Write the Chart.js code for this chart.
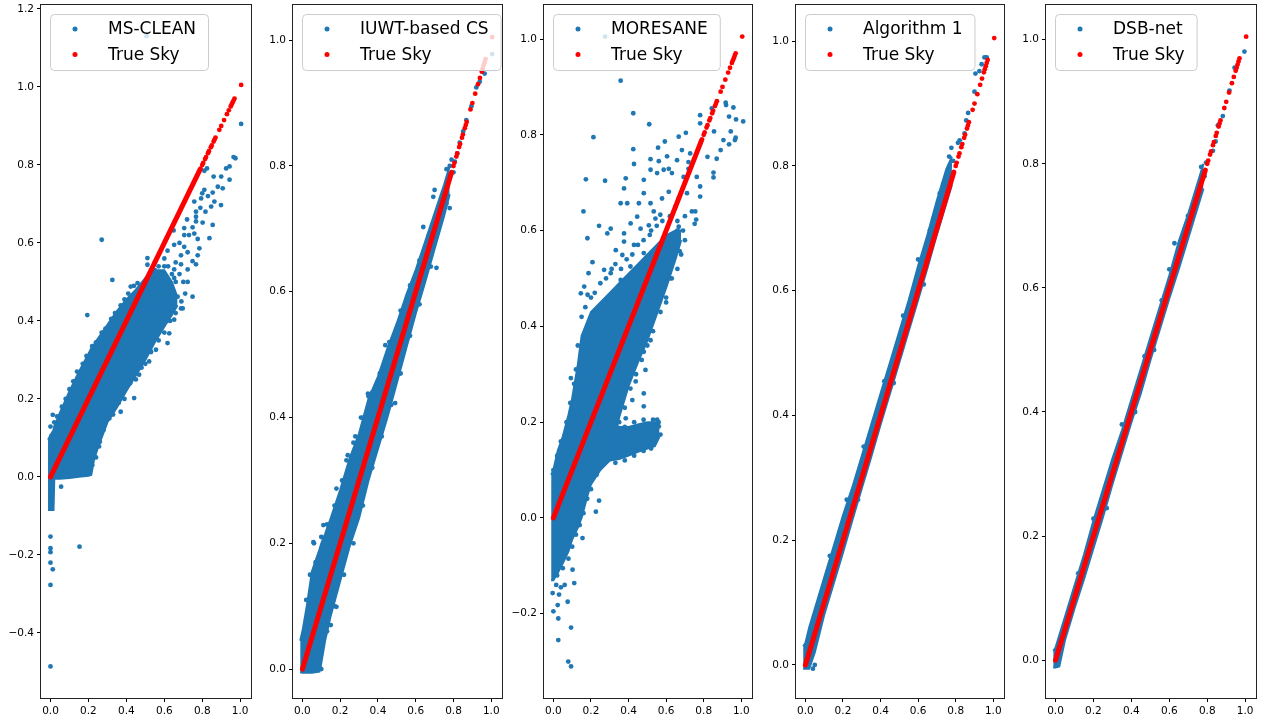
<!DOCTYPE html>
<html>
<head>
<meta charset="utf-8">
<script src="https://cdn.jsdelivr.net/npm/chart.js@4.4.1/dist/chart.umd.min.js"></script>
<style>
  html, body { margin: 0; padding: 0; background: #fff; }
  #wrap { position: relative; width: 1265px; height: 724px; overflow: hidden; }
  #wrap canvas { position: absolute; top: 0; }
</style>
</head>
<body>
<div id="wrap"></div>
<script>
// ---- values ----
const xTicks = [0, 0.2, 0.4, 0.6, 0.8, 1.0];
const yTicksClean = [-0.4, -0.2, 0, 0.2, 0.4, 0.6, 0.8, 1.0, 1.2];
const yTicksMoresane = [-0.2, 0, 0.2, 0.4, 0.6, 0.8, 1.0];
const yTicksUnit = [0, 0.2, 0.4, 0.6, 0.8, 1.0];

// true sky: solid run of red dots along y = x, then the sparse bright pixels
const skyDense = [0, 0.79];
const skySparse = [0.8, 0.805, 0.815, 0.82, 0.83, 0.835, 0.845, 0.85, 0.86, 0.865, 0.87,
  0.89, 0.9, 0.915, 0.93, 0.94, 0.95, 0.955, 0.96, 0.965, 0.97, 1.005];

// MS-CLEAN: solid blue cloud (lower / upper edge per x) + loose points
const cleanBandX  = [-0.013, 0.016, 0.02, 0.05, 0.1, 0.15, 0.2, 0.215, 0.23, 0.25, 0.3, 0.35, 0.4, 0.45, 0.5, 0.55, 0.6, 0.64, 0.67];
const cleanBandLo = [-0.085, -0.085, -0.005, -0.005, -0.003, 0.0, 0.003, 0.005, 0.045, 0.075, 0.14, 0.178, 0.22, 0.26, 0.3, 0.345, 0.385, 0.415, 0.44];
const cleanBandHi = [0.095, 0.12, 0.13, 0.165, 0.22, 0.27, 0.315, 0.33, 0.34, 0.355, 0.39, 0.425, 0.455, 0.48, 0.51, 0.53, 0.53, 0.5, 0.46];
const cleanPts = [
  [1.005, 0.905], [0.965, 0.82], [0.975, 0.817], [0.944, 0.796], [0.926, 0.791], [0.825, 0.791],
  [0.811, 0.785], [0.944, 0.762], [0.908, 0.74], [0.882, 0.744], [0.811, 0.736], [0.8, 0.727],
  [0.855, 0.729], [0.758, 0.706], [0.794, 0.714], [0.864, 0.706], [0.899, 0.697], [0.847, 0.693],
  [0.817, 0.68], [0.767, 0.68], [0.767, 0.667], [0.767, 0.655], [0.802, 0.652], [0.855, 0.646],
  [0.705, 0.638], [0.749, 0.64], [0.649, 0.632], [0.758, 0.624], [0.838, 0.612], [0.705, 0.62],
  [0.776, 0.61], [0.27, 0.608], [0.652, 0.595], [0.705, 0.59], [0.785, 0.586], [0.723, 0.576],
  [0.617, 0.58], [0.688, 0.568], [0.776, 0.568], [0.749, 0.553], [0.688, 0.545], [0.511, 0.561],
  [0.511, 0.544], [0.652, 0.532], [0.723, 0.532], [0.767, 0.545], [0.326, 0.505], [0.652, 0.51],
  [0.723, 0.5], [0.459, 0.497], [0.423, 0.488], [0.617, 0.48], [0.749, 0.462], [0.67, 0.462],
  [0.194, 0.415], [0.697, 0.432], [0.646, 0.436], [0.585, 0.436], [0.353, 0.415], [0.55, 0.55],
  [0.58, 0.52], [0.6, 0.56], [0.62, 0.54], [0.66, 0.55], [0.68, 0.6], [0.73, 0.62], [0.72, 0.66],
  [0.79, 0.69], [0.83, 0.72], [0.86, 0.77], [0.9, 0.77], [0.506, 1.13],
  [0, -0.153], [0, -0.183], [0, -0.193], [0, -0.22], [0.012, -0.237], [0, -0.277], [0, -0.486],
  [0.153, -0.179], [0.056, -0.025], [0.012, 0.159], [0.0, 0.129],
  [0.206, 0.014], [0.256, 0.078], [0.265, 0.108], [0.317, 0.172], [0.37, 0.167], [0.441, 0.202],
  [0.467, 0.262], [0.52, 0.296], [0.529, 0.322], [0.556, 0.326], [0.617, 0.343], [0.626, 0.368],
  [0.652, 0.403], [0.688, 0.432], [0.64, 0.45],
  // ragged edges of the cloud
  [0.005, 0.105], [0.02, 0.14], [0.035, 0.155], [0.06, 0.18], [0.08, 0.2], [0.1, 0.225],
  [0.12, 0.245], [0.14, 0.27], [0.17, 0.29], [0.19, 0.31], [0.22, 0.335], [0.24, 0.345],
  [0.27, 0.37], [0.29, 0.38], [0.32, 0.405], [0.34, 0.42], [0.37, 0.44], [0.39, 0.455],
  [0.41, 0.47], [0.44, 0.49], [0.22, 0.03], [0.24, 0.05], [0.26, 0.09], [0.28, 0.12],
  [0.31, 0.15], [0.33, 0.16], [0.36, 0.19], [0.39, 0.2], [0.42, 0.24], [0.45, 0.25],
  [0.48, 0.28], [0.5, 0.29], [0.53, 0.32], [0.57, 0.35], [0.6, 0.37], [0.63, 0.4],
  [0.66, 0.42], [0.69, 0.45], [0.71, 0.47], [0.7, 0.5], [0.68, 0.52], [0.66, 0.5],
  [0.64, 0.52], [0.6, 0.54], [0.57, 0.54], [0.55, 0.53]
];

// IUWT-based CS
const iuwtBandX  = [-0.012, 0.0, 0.023, 0.05, 0.09, 0.1, 0.12, 0.15, 0.2, 0.25, 0.3, 0.35, 0.4, 0.45, 0.5, 0.55, 0.6, 0.65, 0.7, 0.75, 0.78];
const iuwtBandLo = [-0.005, -0.006, -0.006, -0.006, -0.004, 0.01, 0.045, 0.085, 0.14, 0.195, 0.24, 0.3, 0.35, 0.4, 0.455, 0.51, 0.565, 0.615, 0.668, 0.72, 0.755];
const iuwtBandHi = [0.045, 0.06, 0.1, 0.155, 0.19, 0.2, 0.215, 0.24, 0.285, 0.335, 0.375, 0.43, 0.465, 0.51, 0.55, 0.595, 0.635, 0.68, 0.725, 0.77, 0.8];
const iuwtPts = [
  [0.058, 0.202], [0.111, 0.229], [0.18, 0.287], [0.233, 0.332], [0.347, 0.438], [0.18, 0.099],
  [0.15, 0.07], [0.061, 0.2], [0.14, 0.225], [0.27, 0.36], [0.31, 0.4], [0.71, 0.638],
  [0.78, 0.733], [0.763, 0.74], [0.64, 0.703], [0.7, 0.762], [0.693, 0.751], [0.737, 0.747],
  [0.78, 0.8], [0.763, 0.795], [0.482, 0.515], [0.439, 0.515], [0.491, 0.423], [0.43, 0.445],
  [0.35, 0.434], [0.807, 0.807], [0.833, 0.837], [0.851, 0.855], [0.868, 0.873], [0.895, 0.895],
  [0.921, 0.925], [0.939, 0.934], [0.965, 0.947], [1.005, 0.978], [0.8, 0.79], [0.79, 0.81],
  [0.82, 0.82], [0.72, 0.7], [0.66, 0.66], [0.09, 0.004],
  [0.02, 0.11], [0.04, 0.15], [0.07, 0.17], [0.1, 0.21], [0.13, 0.23], [0.17, 0.26],
  [0.21, 0.3], [0.24, 0.34], [0.28, 0.37], [0.32, 0.4], [0.37, 0.44], [0.41, 0.47],
  [0.46, 0.52], [0.52, 0.57], [0.57, 0.61], [0.62, 0.65], [0.67, 0.69], [0.1, 0.0],
  [0.13, 0.06], [0.17, 0.1], [0.22, 0.15], [0.27, 0.2], [0.32, 0.26], [0.37, 0.32],
  [0.42, 0.37], [0.47, 0.42], [0.52, 0.47], [0.57, 0.53], [0.62, 0.58], [0.68, 0.64]
];

// MORESANE: main cloud, the lower "arm", and loose points
const moreBandX  = [-0.012, 0.0, 0.023, 0.05, 0.08, 0.1, 0.13, 0.15, 0.18, 0.2, 0.25, 0.3, 0.35, 0.4, 0.45, 0.5, 0.55, 0.6, 0.65, 0.68];
const moreBandLo = [-0.13, -0.13, -0.115, -0.095, -0.07, -0.045, -0.02, 0.0, 0.045, 0.07, 0.1, 0.12, 0.21, 0.275, 0.325, 0.37, 0.425, 0.48, 0.54, 0.58];
const moreBandHi = [0.09, 0.1, 0.14, 0.17, 0.215, 0.25, 0.32, 0.38, 0.41, 0.43, 0.45, 0.47, 0.49, 0.51, 0.53, 0.55, 0.57, 0.59, 0.6, 0.6];
const moreArmX  = [0.3, 0.35, 0.4, 0.45, 0.5, 0.54, 0.565];
const moreArmLo = [0.12, 0.123, 0.13, 0.138, 0.145, 0.15, 0.17];
const moreArmHi = [0.2, 0.19, 0.19, 0.195, 0.2, 0.2, 0.2];
const morePts = [
  [0.275, 1.005], [0.358, 0.913], [0.425, 0.845], [0.213, 0.795], [0.51, 0.822], [0.425, 0.77],
  [0.173, 0.707], [0.275, 0.704], [0.16, 0.64], [0.181, 0.584], [0.208, 0.534], [0.187, 0.511],
  [0.243, 0.61], [0.287, 0.594], [0.305, 0.604], [0.358, 0.657], [0.393, 0.657], [0.376, 0.688],
  [0.385, 0.709], [0.429, 0.739], [0.517, 0.749], [0.557, 0.773], [0.593, 0.786], [0.667, 0.796],
  [0.705, 0.804], [0.781, 0.841], [0.781, 0.824], [0.843, 0.855], [0.919, 0.862], [0.958, 0.857],
  [0.935, 0.838], [0.972, 0.832], [1.01, 0.828], [0.855, 0.807], [0.944, 0.807], [0.905, 0.789],
  [0.966, 0.789], [0.89, 0.768], [0.869, 0.75], [0.82, 0.754], [0.852, 0.721], [0.852, 0.711],
  [0.781, 0.692], [0.781, 0.671], [0.755, 0.64], [0.737, 0.64], [0.76, 0.623], [0.752, 0.614],
  [0.667, 0.608], [0.649, 0.56], [0.632, 0.539], [0.672, 0.557], [0.561, 0.542], [0.596, 0.57],
  [0.513, 0.591], [0.508, 0.611], [0.543, 0.625], [0.569, 0.633], [0.534, 0.64], [0.578, 0.667],
  [0.614, 0.681], [0.631, 0.72], [0.658, 0.747], [0.614, 0.729], [0.684, 0.768], [0.728, 0.761],
  [0.719, 0.743], [0.693, 0.712], [0.711, 0.678], [0.667, 0.667], [0.649, 0.65], [0.481, 0.553],
  [0.481, 0.525], [0.429, 0.57], [0.376, 0.577], [0.367, 0.549], [0.332, 0.559], [0.305, 0.511],
  [0.27, 0.518], [0.41, 0.525], [0.429, 0.504], [0.358, 0.497], [0.464, 0.604], [0.376, 0.594],
  [0.411, 0.615], [0.446, 0.629], [0.455, 0.657], [0.481, 0.678], [0.517, 0.657], [0.481, 0.706],
  [0.517, 0.727], [0.552, 0.72], [0.587, 0.727], [0.605, 0.755], [0.561, 0.745], [0.719, 0.729],
  [0.763, 0.712], [0.917, 0.867], [0.97, 0.794], [0.935, 0.78],
  [-0.004, -0.157], [0.03, -0.16], [0.023, -0.182], [0.0, -0.195], [0.076, -0.175], [0.026, -0.21],
  [0.094, -0.229], [0.026, -0.255], [0.079, -0.3], [0.094, -0.31], [0.111, -0.136], [0.102, -0.108],
  [0.243, 0.036], [0.226, 0.013], [0.155, -0.042], [0.06, -0.14], [0.04, -0.145], [0.015, -0.14],
  [0.481, 0.26], [0.49, 0.309], [0.42, 0.246], [0.438, 0.285], [0.385, 0.208], [0.481, 0.233],
  [0.552, 0.205], [0.561, 0.191], [0.57, 0.174], [0.146, 0.469], [0.182, 0.466], [0.164, 0.483],
  [0.093, 0.292], [0.12, 0.27], [0.429, 0.368], [0.464, 0.379], [0.481, 0.347], [0.517, 0.371],
  [0.62, 0.5], [0.66, 0.6], [0.7, 0.63], [0.6, 0.45],
  // ragged edges of the cloud and the arm
  [0.13, 0.36], [0.15, 0.42], [0.17, 0.44], [0.2, 0.46], [0.22, 0.47], [0.25, 0.49],
  [0.28, 0.5], [0.31, 0.52], [0.33, 0.53], [0.36, 0.52], [0.39, 0.54], [0.42, 0.55],
  [0.45, 0.57], [0.48, 0.58], [0.52, 0.6], [0.55, 0.61], [0.58, 0.62], [0.62, 0.63],
  [0.66, 0.62], [0.69, 0.6], [0.7, 0.58], [0.68, 0.55], [0.66, 0.52], [0.63, 0.5],
  [0.6, 0.46], [0.57, 0.43], [0.53, 0.39], [0.5, 0.36], [0.47, 0.33], [0.44, 0.3],
  [0.41, 0.27], [0.38, 0.23], [0.35, 0.2], [0.02, -0.12], [0.05, -0.105], [0.08, -0.085],
  [0.1, -0.06], [0.12, -0.035], [0.14, -0.015], [0.16, 0.01], [0.18, 0.04], [0.2, 0.06],
  [0.23, 0.09], [0.0, 0.1], [0.02, 0.13], [0.04, 0.16], [0.07, 0.2], [0.09, 0.24],
  [0.11, 0.28], [0.12, 0.31], [0.33, 0.2], [0.38, 0.19], [0.43, 0.2], [0.48, 0.205],
  [0.53, 0.205], [0.56, 0.2], [0.33, 0.115], [0.38, 0.12], [0.43, 0.13], [0.48, 0.14],
  [0.52, 0.145]
];

// Algorithm 1
const algBandX  = [-0.012, 0.0, 0.02, 0.05, 0.1, 0.15, 0.2, 0.25, 0.3, 0.35, 0.4, 0.45, 0.5, 0.55, 0.6, 0.65, 0.7, 0.75, 0.78];
const algBandLo = [-0.006, -0.006, -0.006, 0.02, 0.08, 0.13, 0.18, 0.232, 0.283, 0.333, 0.385, 0.435, 0.485, 0.535, 0.585, 0.637, 0.69, 0.74, 0.77];
const algBandHi = [0.03, 0.035, 0.06, 0.09, 0.14, 0.19, 0.24, 0.285, 0.335, 0.385, 0.435, 0.485, 0.535, 0.585, 0.64, 0.69, 0.745, 0.795, 0.815];
const algPts = [
  [0.965, 0.974], [0.953, 0.974], [0.938, 0.963], [0.926, 0.952], [0.905, 0.948], [0.9, 0.919],
  [0.866, 0.885], [0.856, 0.873], [0.847, 0.852], [0.821, 0.841], [0.812, 0.837], [0.777, 0.829],
  [0.765, 0.815], [0.786, 0.808], [0.768, 0.8], [0.733, 0.771], [0.715, 0.756], [0.707, 0.741],
  [0.698, 0.727], [0.68, 0.715], [0.663, 0.697], [0.654, 0.682], [0.04, -0.006], [0.05, 0.0],
  [0.13, 0.175], [0.22, 0.265], [0.31, 0.35], [0.42, 0.455], [0.52, 0.56], [0.6, 0.65],
  [0.28, 0.265], [0.47, 0.452], [0.63, 0.61]
];

// DSB-net
const dsbBandX  = [-0.012, 0.0, 0.02, 0.05, 0.1, 0.15, 0.2, 0.25, 0.3, 0.35, 0.4, 0.45, 0.5, 0.55, 0.6, 0.65, 0.7, 0.75, 0.78];
const dsbBandLo = [-0.012, -0.012, -0.01, 0.032, 0.083, 0.13, 0.18, 0.23, 0.283, 0.333, 0.383, 0.43, 0.483, 0.533, 0.583, 0.63, 0.68, 0.73, 0.76];
const dsbBandHi = [0.015, 0.02, 0.04, 0.07, 0.12, 0.17, 0.225, 0.275, 0.325, 0.37, 0.42, 0.47, 0.52, 0.57, 0.62, 0.675, 0.72, 0.77, 0.8];
const dsbPts = [
  [0.996, 0.981], [0.944, 0.955], [0.917, 0.918], [0.882, 0.877], [0.856, 0.862], [0.844, 0.836],
  [0.83, 0.821], [0.794, 0.802], [0.768, 0.795], [0.786, 0.78], [0.759, 0.761], [0.698, 0.716],
  [0.68, 0.694], [0.627, 0.672], [0.27, 0.245], [0.52, 0.5], [0.56, 0.58], [0.47, 0.49],
  [0.12, 0.14], [0.2, 0.228], [0.35, 0.38], [0.42, 0.4], [0.6, 0.63], [0.65, 0.64]
];

// ---- layout / style ----
const BLUE = "#1f77b4";
const RED = "#ff0000";
const FONT = "DejaVu Sans";
const AXIS_W = 41;   // room for y tick labels
const AXIS_H = 26;   // room for x tick labels
const PAD_R = 10;

const panels = [
  { name: "MS-CLEAN", left: 41, right: 251, yMin: -0.567, yMax: 1.21, yTicks: yTicksClean,
    bands: [[cleanBandX, cleanBandLo, cleanBandHi]], pts: cleanPts },
  { name: "IUWT-based CS", left: 293, right: 502, yMin: -0.046, yMax: 1.056, yTicks: yTicksUnit,
    bands: [[iuwtBandX, iuwtBandLo, iuwtBandHi]], pts: iuwtPts },
  { name: "MORESANE", left: 544, right: 752, yMin: -0.376, yMax: 1.071, yTicks: yTicksMoresane,
    bands: [[moreBandX, moreBandLo, moreBandHi], [moreArmX, moreArmLo, moreArmHi]], pts: morePts },
  { name: "Algorithm 1", left: 796, right: 1004, yMin: -0.053, yMax: 1.058, yTicks: yTicksUnit,
    bands: [[algBandX, algBandLo, algBandHi]], pts: algPts },
  { name: "DSB-net", left: 1046, right: 1256, yMin: -0.061, yMax: 1.056, yTicks: yTicksUnit,
    bands: [[dsbBandX, dsbBandLo, dsbBandHi]], pts: dsbPts }
];

function fmt(v) {
  return v < -1e-9 ? "\u2212" + (-v).toFixed(1) : Math.abs(v).toFixed(1);
}

// spines on four sides + matplotlib style legend box
const frameAndLegend = {
  id: "frameAndLegend",
  afterDatasetsDraw(chart, args, opts) {
    const { ctx, chartArea: a } = chart;
    ctx.save();
    ctx.strokeStyle = "#222";
    ctx.lineWidth = 1;
    ctx.strokeRect(Math.round(a.left) - 0.5, Math.round(a.top) - 0.5,
      Math.round(a.right - a.left) + 1, Math.round(a.bottom - a.top) + 1);

    ctx.font = "17px '" + FONT + "'";
    const tw = Math.max(...opts.items.map(it => ctx.measureText(it.label).width));
    const x0 = a.left + 9.5, y0 = a.top + 9.5;
    const w = 57 + tw + 13, h = 56, r = 4;
    ctx.beginPath();
    ctx.moveTo(x0 + r, y0);
    ctx.arcTo(x0 + w, y0, x0 + w, y0 + h, r);
    ctx.arcTo(x0 + w, y0 + h, x0, y0 + h, r);
    ctx.arcTo(x0, y0 + h, x0, y0, r);
    ctx.arcTo(x0, y0, x0 + w, y0, r);
    ctx.closePath();
    ctx.fillStyle = "rgba(255,255,255,0.8)";
    ctx.fill();
    ctx.strokeStyle = "#cccccc";
    ctx.stroke();

    ctx.textBaseline = "middle";
    ctx.textAlign = "left";
    opts.items.forEach((it, i) => {
      const cy = y0 + 14.5 + i * 25.5;
      ctx.fillStyle = it.color;
      ctx.beginPath();
      ctx.arc(x0 + 24.5, cy, 2.5, 0, Math.PI * 2);
      ctx.fill();
      ctx.fillStyle = "#000";
      ctx.fillText(it.label, x0 + 57.5, cy + 1);
    });
    ctx.restore();
  }
};

function makeChart(p) {
  const canvas = document.createElement("canvas");
  const cw = AXIS_W + (p.right - p.left) + PAD_R;
  canvas.width = cw;
  canvas.height = 724;
  canvas.style.left = (p.left - AXIS_W) + "px";
  canvas.style.width = cw + "px";
  canvas.style.height = "724px";
  document.getElementById("wrap").appendChild(canvas);

  const datasets = [];
  p.bands.forEach(([bx, lo, hi]) => {
    datasets.push({
      type: "line", data: bx.map((x, i) => ({ x: x, y: lo[i] })),
      borderColor: BLUE, borderWidth: 2, pointRadius: 0, fill: false, tension: 0, order: 3
    });
    datasets.push({
      type: "line", data: bx.map((x, i) => ({ x: x, y: hi[i] })),
      borderColor: BLUE, borderWidth: 2, backgroundColor: BLUE, pointRadius: 0,
      fill: "-1", tension: 0, order: 3
    });
  });
  datasets.push({
    type: "scatter", label: p.name, data: p.pts.map(([x, y]) => ({ x: x, y: y })),
    pointRadius: 2.4, pointBackgroundColor: BLUE, pointBorderWidth: 0, order: 2
  });
  datasets.push({
    type: "line", data: skyDense.map(v => ({ x: v, y: v })),
    borderColor: RED, borderWidth: 5, borderCapStyle: "round", pointRadius: 0, fill: false, order: 1
  });
  datasets.push({
    type: "scatter", label: "True Sky", data: skySparse.map(v => ({ x: v, y: v })),
    pointRadius: 2.4, pointBackgroundColor: RED, pointBorderWidth: 0, order: 1
  });

  const tickFont = { family: FONT, size: 10.5 };
  new Chart(canvas, {
    type: "scatter",
    data: { datasets: datasets },
    plugins: [frameAndLegend],
    options: {
      responsive: false,
      animation: false,
      devicePixelRatio: 1,
      layout: { padding: { top: 5, right: PAD_R, left: 0, bottom: 0 } },
      scales: {
        x: {
          type: "linear", min: -0.05, max: 1.057,
          afterBuildTicks: s => { s.ticks = xTicks.map(v => ({ value: v })); },
          afterFit: s => { s.height = AXIS_H; s.paddingLeft = 0; s.paddingRight = 0; },
          ticks: { callback: v => fmt(v), font: tickFont, color: "#000", padding: 3, maxRotation: 0, autoSkip: false },
          grid: { display: true, drawOnChartArea: false, drawTicks: true, tickLength: 4, tickColor: "#000" },
          border: { display: false }
        },
        y: {
          type: "linear", min: p.yMin, max: p.yMax,
          afterBuildTicks: s => { s.ticks = p.yTicks.map(v => ({ value: v })); },
          afterFit: s => { s.width = AXIS_W; s.paddingTop = 0; s.paddingBottom = 0; },
          ticks: { callback: v => fmt(v), font: tickFont, color: "#000", padding: 3, autoSkip: false },
          grid: { display: true, drawOnChartArea: false, drawTicks: true, tickLength: 4, tickColor: "#000" },
          border: { display: false }
        }
      },
      plugins: {
        legend: { display: false },
        tooltip: { enabled: false },
        frameAndLegend: {
          items: [{ label: p.name, color: BLUE }, { label: "True Sky", color: RED }]
        }
      }
    }
  });
}

panels.forEach(makeChart);
</script>
</body>
</html>
